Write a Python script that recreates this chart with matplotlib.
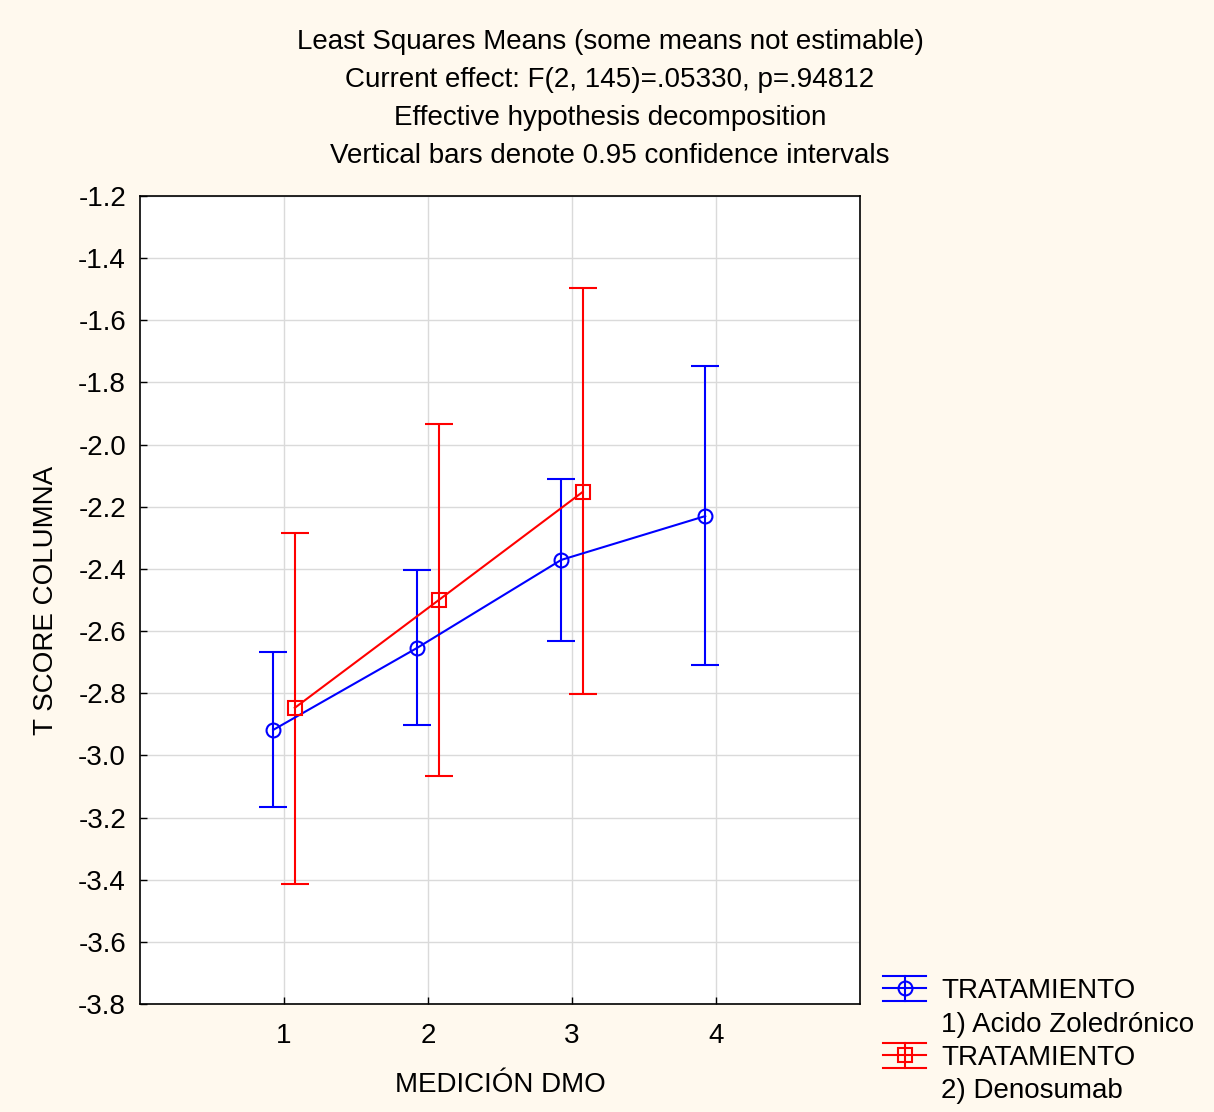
import matplotlib
matplotlib.use("Agg")
import matplotlib.pyplot as plt
from matplotlib.legend_handler import HandlerBase
from matplotlib.lines import Line2D

plt.rcParams['font.family'] = ['Liberation Sans', 'DejaVu Sans']

x_ticks = [1, 2, 3, 4]
y_ticks = [-3.8, -3.6, -3.4, -3.2, -3.0, -2.8, -2.6, -2.4, -2.2, -2.0, -1.8, -1.6, -1.4, -1.2]

zol_x = [1, 2, 3, 4]
zol_mean = [-2.918, -2.654, -2.371, -2.230]
zol_low = [-3.166, -2.902, -2.632, -2.709]
zol_high = [-2.667, -2.403, -2.111, -1.747]

den_x = [1, 2, 3]
den_mean = [-2.847, -2.500, -2.152]
den_low = [-3.414, -3.066, -2.802]
den_high = [-2.284, -1.934, -1.496]

title_lines = ["Least Squares Means (some means not estimable)",
               "Current effect: F(2, 145)=.05330, p=.94812",
               "Effective hypothesis decomposition",
               "Vertical bars denote 0.95 confidence intervals"]
legend_rows = ["TRATAMIENTO", "1) Acido Zoledrónico", "TRATAMIENTO", "2) Denosumab"]

FS = 20
bg = '#FFF9EE'
fig = plt.figure(figsize=(12.14, 11.12), dpi=100, facecolor=bg)
ax = fig.add_axes([140/1214, 1-1004/1112, 720/1214, 808/1112])
ax.set_facecolor('white')

off = 0.075
zx = [v - off for v in zol_x]
dx = [v + off for v in den_x]
zerr = [[m - l for m, l in zip(zol_mean, zol_low)], [h - m for m, h in zip(zol_mean, zol_high)]]
derr = [[m - l for m, l in zip(den_mean, den_low)], [h - m for m, h in zip(den_mean, den_high)]]

e1 = ax.errorbar(zx, zol_mean, yerr=zerr, color='#0000FF', marker='o', ms=10, mfc='none',
                 mec='#0000FF', mew=1.5, lw=1.5, elinewidth=1.5, capsize=10, capthick=1.5,
                 zorder=3)
e2 = ax.errorbar(dx, den_mean, yerr=derr, color='#FF0000', marker='s', ms=10, mfc='none',
                 mec='#FF0000', mew=1.5, lw=1.5, elinewidth=1.5, capsize=10, capthick=1.5,
                 zorder=3)

ax.set_xlim(0, 5)
ax.set_ylim(-3.8, -1.2)
ax.set_xticks(x_ticks)
ax.set_yticks(y_ticks)
ax.set_yticklabels([f"{v:.1f}" for v in y_ticks])
ax.grid(True, color='#DADADA', lw=1)
ax.set_axisbelow(True)
ax.tick_params(direction='in', length=5, width=1, labelsize=FS, colors='black')
ax.tick_params(axis='y', pad=10)
ax.tick_params(axis='x', pad=14)
for s in ax.spines.values():
    s.set_linewidth(1.2)
    s.set_color('black')

ax.set_xlabel("MEDICIÓN DMO", fontsize=FS, labelpad=16)
ax.set_ylabel("T SCORE COLUMNA", fontsize=FS, labelpad=14)

for i, t in enumerate(title_lines):
    fig.text(610/1214, 1 - (42 + 38*i)/1112, t, ha='center', va='center', fontsize=FS)


class ErrHandler(HandlerBase):
    def create_artists(self, legend, orig_handle, xdescent, ydescent, width, height,
                       fontsize, trans):
        line = orig_handle[0]
        c = line.get_color()
        mk = line.get_marker()
        x0, x1 = -xdescent, -xdescent + width
        xm = (x0 + x1) / 2
        ym = -ydescent + height / 2
        h = 0.45 * fontsize
        arts = []
        for yy in (ym - h, ym, ym + h):
            arts.append(Line2D([x0, x1], [yy, yy], color=c, lw=1.5, transform=trans))
        arts.append(Line2D([xm, xm], [ym - h, ym + h], color=c, lw=1.5, transform=trans))
        arts.append(Line2D([xm], [ym], marker=mk, ms=10, mfc='none', mec=c, mew=1.5,
                           ls='none', transform=trans))
        return arts


blank = Line2D([], [], ls='none', marker=None)
fig.legend(handles=[e1, blank, e2, blank], labels=legend_rows, loc='upper left',
           bbox_to_anchor=(883/1214, 1 - 978/1112), frameon=False, fontsize=FS,
           borderpad=0, borderaxespad=0, handlelength=1.55, handletextpad=0.55,
           labelspacing=0.27, handler_map={type(e1): ErrHandler()})

fig.savefig("out.png", dpi=100, facecolor=bg)
